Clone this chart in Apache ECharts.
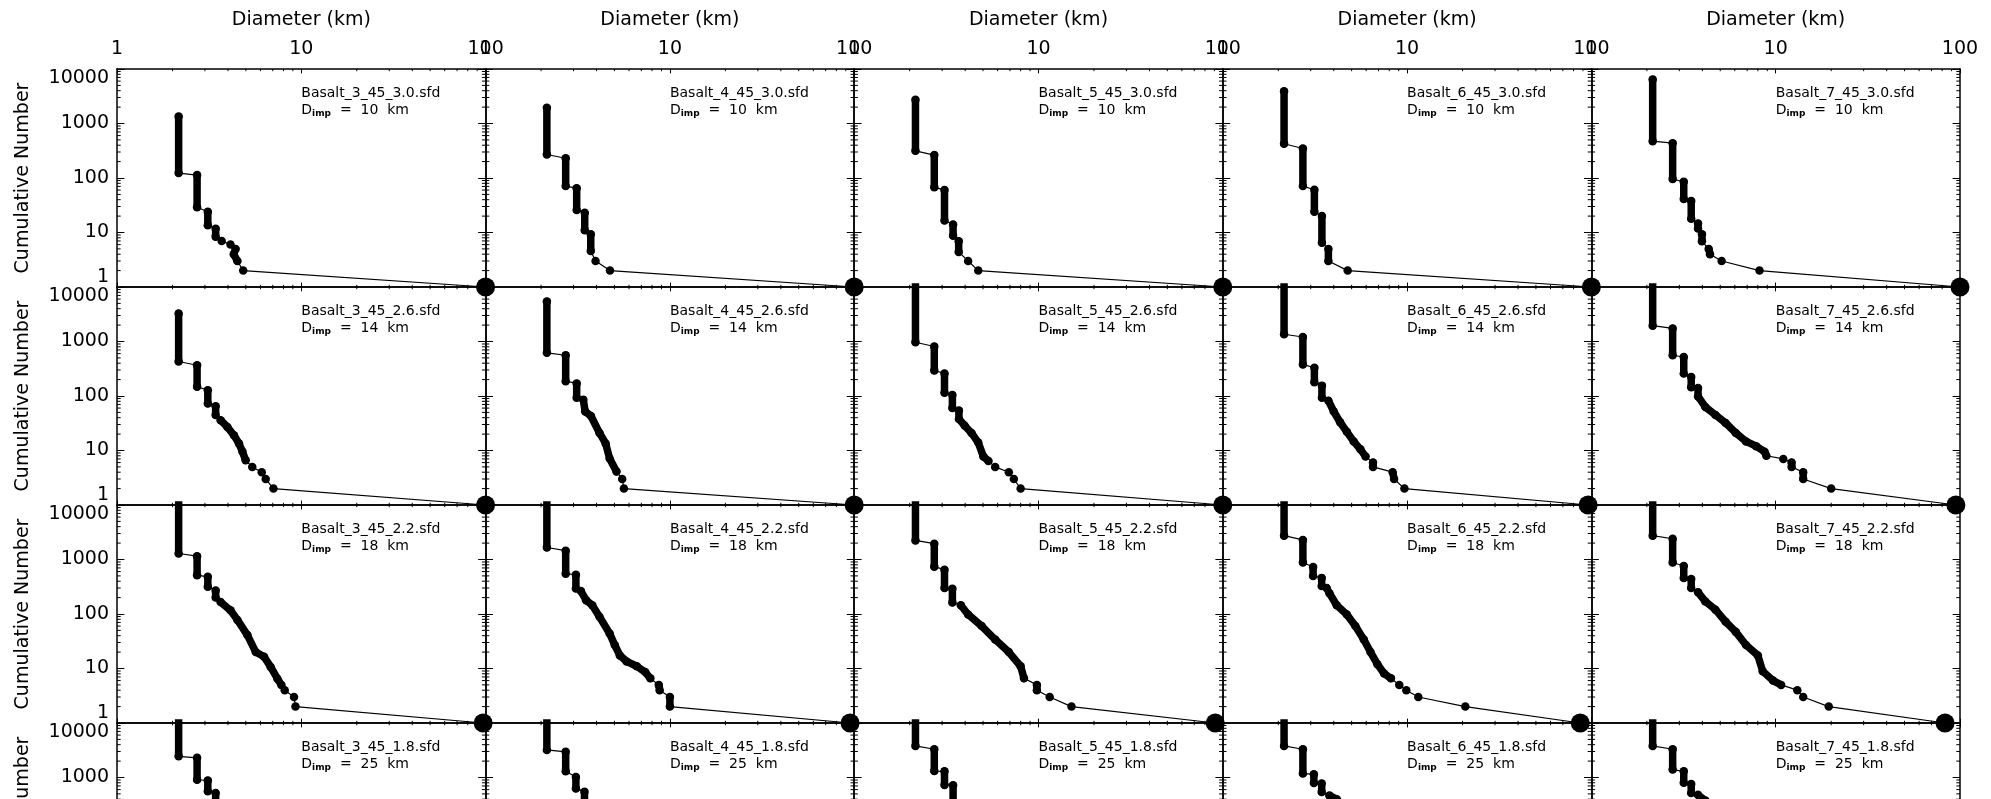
<!DOCTYPE html>
<html><head><meta charset="utf-8">
<script src="https://cdn.jsdelivr.net/npm/echarts@6/dist/echarts.min.js"></script>
<style>html,body{margin:0;padding:0;background:#fff;width:1991px;height:799px;overflow:hidden}#c{width:1991px;height:960px}</style>
</head><body><div id="c"></div><script>
// ---- tick values ----
const xMajorTicks = [1, 10, 100];
const yMajorTicks = [1, 10, 100, 1000, 10000];
const xMinorTicks = [2,3,4,5,6,7,8,9,20,30,40,50,60,70,80,90];
const yMinorTicks = [2,3,4,5,6,7,8,9,20,30,40,50,60,70,80,90,200,300,400,500,600,700,800,900,2000,3000,4000,5000,6000,7000,8000,9000];

// ---- panel labels ----
const models = ['3','4','5','6','7'];
const strengths = ['3.0','2.6','2.2','1.8'];
const impactorD = [10, 14, 18, 25];

// ---- data: each run = consecutive points [D km, cumulative N] ----
const basalt3_30 = [[[2.16,1350],[2.16,123]],[[2.72,113],[2.72,29]],[[3.11,24],[3.11,13.6]],[[3.43,11.7],[3.43,8.4]],[[3.7,7]],[[4.13,6]],[[4.4,5],[4.3,4],[4.5,3]],[[4.84,2]]];
const basalt3_26 = [[[2.16,3250],[2.16,430]],[[2.72,367],[2.72,148]],[[3.11,128],[3.11,73]],[[3.43,65],[3.43,45]],[[3.65,36],[3.97,27],[4.31,19],[4.59,13.4],[4.79,9.6],[4.99,6.6]],[[5.42,5]],[[6.1,4]],[[6.41,3]],[[7.06,2]]];
const basalt3_22 = [[[2.16,12000],[2.16,1290]],[[2.72,1150],[2.72,515]],[[3.11,480],[3.11,315]],[[3.43,270],[3.43,200]],[[3.65,166],[4.13,117],[4.5,78],[5.1,41],[5.66,20],[6.28,16.4],[6.82,10.7],[7.42,6.5],[7.8,5]],[[8.13,4]],[[9.13,3]],[[9.3,2]]];
const basalt3_18 = [[[2.16,12000],[2.16,2450]],[[2.72,2300],[2.72,910]],[[3.11,880],[3.11,560]],[[3.43,520],[3.43,330]],[[3.65,300],[4.13,200]]];

const basalt4_30 = [[[2.15,1950],[2.15,270]],[[2.72,230],[2.72,71]],[[3.12,65],[3.12,26]],[[3.45,23],[3.45,11]],[[3.72,9.3],[3.72,4.6]],[[3.95,3]],[[4.73,2]]];
const basalt4_26 = [[[2.15,5400],[2.15,620]],[[2.72,560],[2.72,187]],[[3.12,170],[3.12,93]],[[3.39,85],[3.47,52],[3.73,43],[4.15,21],[4.48,13.5],[4.71,7.1],[5.13,4.1]],[[5.51,3]],[[5.63,2]]];
const basalt4_22 = [[[2.15,12000],[2.15,1660]],[[2.72,1450],[2.72,550]],[[3.09,525],[3.09,295]],[[3.29,263],[3.51,179],[3.79,145],[4.15,89],[4.71,44],[5.02,27],[5.35,17.4],[5.82,13.5],[6.61,11],[7.35,8.6],[7.83,6.6]],[[8.7,5],[8.8,4]],[[10,3],[10,2]]];
const basalt4_18 = [[[2.15,12000],[2.15,3200]],[[2.72,2960],[2.72,1300]],[[3.09,1020],[3.09,630]],[[3.44,550],[3.44,300]]];

const basalt5_30 = [[[2.15,2740],[2.15,315]],[[2.72,263],[2.72,68]],[[3.09,60],[3.09,16.6]],[[3.44,14],[3.44,8.7]],[[3.69,6.9],[3.69,4.4]],[[4.15,3]],[[4.71,2]]];
const basalt5_26 = [[[2.15,12000],[2.15,970]],[[2.72,810],[2.72,294]],[[3.09,260],[3.09,115]],[[3.41,104],[3.41,60]],[[3.7,54],[3.7,38],[3.98,28.5],[4.33,21],[4.71,14],[5.02,7.8],[5.35,6.4]],[[5.82,5]],[[6.9,4]],[[7.35,3]],[[8.0,2]]];
const basalt5_22 = [[[2.15,12000],[2.15,2240]],[[2.72,1950],[2.72,740]],[[3.09,650],[3.09,300]],[[3.41,290],[3.41,162]],[[3.79,145],[4.15,98],[4.92,60],[5.82,34],[6.9,20],[8.0,11],[8.34,6.6]],[[9.8,5],[9.8,4]],[[11.5,3]],[[15.1,2]]];
const basalt5_18 = [[[2.15,12000],[2.15,3800]],[[2.72,3300],[2.72,1310]],[[3.09,1300],[3.09,730]],[[3.44,720],[3.44,300]]];

const basalt6_30 = [[[2.15,3900],[2.15,425]],[[2.72,348],[2.72,71]],[[3.14,61],[3.14,24]],[[3.45,20],[3.45,6.5]],[[3.74,5],[3.74,3]],[[4.76,2]]];
const basalt6_26 = [[[2.15,12000],[2.15,1360]],[[2.72,1210],[2.72,380]],[[3.14,330],[3.14,178]],[[3.45,155],[3.45,93]],[[3.74,82],[4.0,52],[4.33,33],[4.71,22],[5.13,14.7],[5.58,10.5],[5.95,7.8]],[[6.53,6],[6.53,5]],[[8.35,4],[8.5,3]],[[9.67,2]]];
const basalt6_22 = [[[2.15,12000],[2.15,2740]],[[2.72,2290],[2.72,880]],[[3.09,730],[3.09,500]],[[3.44,460],[3.44,325]],[[3.66,300],[3.79,240],[4.15,145],[4.71,98],[5.24,60],[5.82,34],[6.33,20],[6.9,12],[7.5,8.1],[8.17,6.6]],[[9.07,5]],[[9.9,4]],[[11.5,3]],[[20.7,2]]];
const basalt6_18 = [[[2.15,12000],[2.15,3800]],[[2.72,3300],[2.72,1180]],[[3.12,1150],[3.12,790]],[[3.44,780],[3.44,540]],[[3.79,465],[4.15,400],[4.45,310]]];

const basalt7_30 = [[[2.15,6450],[2.15,473]],[[2.76,435],[2.76,96]],[[3.17,85],[3.17,41]],[[3.48,38],[3.48,17.8]],[[3.79,14.7],[3.79,11.8]],[[3.98,9.3],[3.98,6.9]],[[4.33,5],[4.4,4]],[[5.09,3]],[[8.17,2]]];
const basalt7_26 = [[[2.15,12000],[2.15,1950]],[[2.76,1740],[2.76,560]],[[3.17,520],[3.17,258]],[[3.48,224],[3.48,145]],[[3.79,140],[3.79,98],[4.15,63],[4.71,45],[5.35,32],[6.07,21],[6.9,14.7],[7.83,12],[8.7,9.5],[8.9,8]],[[11,7]],[[12.2,6],[12.2,5]],[[14.1,4],[14.1,3]],[[20,2]]];
const basalt7_22 = [[[2.15,12000],[2.15,2740]],[[2.76,2400],[2.76,880]],[[3.17,760],[3.17,457]],[[3.48,440],[3.48,300]],[[3.79,250],[4.15,170],[4.71,120],[5.35,72],[6.07,47],[6.9,27],[8.0,17.4],[8.5,8.9],[9.67,6],[10.7,5]],[[13.1,4]],[[14.1,3]],[[19.4,2]]];
const basalt7_18 = [[[2.15,12000],[2.15,3800]],[[2.76,3300],[2.76,1400]],[[3.17,1300],[3.17,800]],[[3.48,760],[3.48,520]],[[3.79,480],[4.15,380],[4.45,300]]];

// diameter of the single largest fragment (N = 1) per row, per column
const largestRow30 = [100, 100, 100, 100, 100];
const largestRow26 = [100, 100, 100, 96, 95];
const largestRow22 = [97, 95, 91, 87, 83];
const largestRow18 = [null, null, null, null, null];

const panelData = [
  [basalt3_30, basalt4_30, basalt5_30, basalt6_30, basalt7_30],
  [basalt3_26, basalt4_26, basalt5_26, basalt6_26, basalt7_26],
  [basalt3_22, basalt4_22, basalt5_22, basalt6_22, basalt7_22],
  [basalt3_18, basalt4_18, basalt5_18, basalt6_18, basalt7_18]
];
const largest = [largestRow30, largestRow26, largestRow22, largestRow18];

// ---- layout ----
const FONT = 'DejaVu Sans';
const left0 = 117, colW = 368.6, top0 = 69, rowH = 218;
const xTickLen = 4.4, yTickLen = 7.4;

const grids = [], xAxes = [], yAxes = [], series = [], graphics = [];
const lab = v => String(Math.round(v));

function tickLine(x1, y1, x2, y2) {
  return { type: 'line', shape: { x1, y1, x2, y2 }, style: { stroke: '#000', lineWidth: 1 } };
}
function minorTickRender(params, api) {
  const children = [];
  xMinorTicks.forEach(v => {
    const b = api.coord([v, yMajorTicks[0]]);
    const t = api.coord([v, yMajorTicks[yMajorTicks.length - 1]]);
    children.push(tickLine(b[0], b[1], b[0], b[1] - xTickLen / 2));
    children.push(tickLine(t[0], t[1], t[0], t[1] + xTickLen / 2));
  });
  yMinorTicks.forEach(v => {
    const l = api.coord([xMajorTicks[0], v]);
    const r = api.coord([xMajorTicks[xMajorTicks.length - 1], v]);
    children.push(tickLine(l[0], l[1], l[0] + yTickLen / 2, l[1]));
    children.push(tickLine(r[0], r[1], r[0] - yTickLen / 2, r[1]));
  });
  return { type: 'group', children };
}

const axisLineStyle = { show: true, onZero: false, lineStyle: { color: '#000', width: 1.5 } };
const labelStyle = { color: '#000', fontSize: 19, fontFamily: FONT };

for (let r = 0; r < 4; r++) {
  for (let c = 0; c < 5; c++) {
    const gi = r * 5 + c;
    const L = left0 + c * colW, T = top0 + r * rowH;
    grids.push({ left: L, top: T, width: colW, height: rowH, containLabel: false });
    const xBase = { type: 'log', logBase: 10, min: 1, max: 100, gridIndex: gi, splitLine: { show: false },
      axisLine: axisLineStyle, axisTick: { show: true, inside: true, length: xTickLen, lineStyle: { color: '#000', width: 1 } } };
    xAxes.push(Object.assign({}, xBase, { position: 'bottom', axisLabel: { show: false } }));
    xAxes.push(Object.assign({}, xBase, { position: 'top',
      axisLabel: Object.assign({ show: r === 0, margin: 10, formatter: lab, showMinLabel: true, showMaxLabel: true }, labelStyle),
      name: r === 0 ? 'Diameter (km)' : '', nameLocation: 'middle', nameGap: 39,
      nameTextStyle: labelStyle }));
    const yBase = { type: 'log', logBase: 10, min: 1, max: 10000, gridIndex: gi, splitLine: { show: false },
      axisLine: axisLineStyle, axisTick: { show: true, inside: true, length: yTickLen, lineStyle: { color: '#000', width: 1 } } };
    yAxes.push(Object.assign({}, yBase, { position: 'left',
      axisLabel: Object.assign({ show: c === 0, margin: 8, formatter: lab, showMinLabel: true, showMaxLabel: true,
        verticalAlignMinLabel: 'bottom', verticalAlignMaxLabel: 'top' }, labelStyle),
      name: c === 0 ? 'Cumulative Number' : '', nameLocation: 'middle', nameGap: 84, nameRotate: 90,
      nameTextStyle: labelStyle }));
    yAxes.push(Object.assign({}, yBase, { position: 'right', axisLabel: { show: false } }));

    const runs = panelData[r][c];
    const big = largest[r][c];
    const thin = [], thick = [], dots = [];
    runs.forEach(run => {
      run.forEach(p => { thin.push(p); dots.push(p); });
      if (run.length > 1) { run.forEach(p => thick.push(p)); thick.push(['-', '-']); }
    });
    if (big) thin.push([big, 1]);
    const ax = { xAxisIndex: 2 * gi, yAxisIndex: 2 * gi, silent: true, animation: false };
    series.push(Object.assign({ type: 'line', data: thin, symbol: 'none', clip: true,
      lineStyle: { color: '#000', width: 1.2, opacity: 1 } }, ax));
    series.push(Object.assign({ type: 'line', data: thick, symbol: 'none', clip: true, connectNulls: false,
      lineStyle: { color: '#000', width: 7.5, cap: 'round', join: 'round', opacity: 1 } }, ax));
    series.push(Object.assign({ type: 'scatter', data: dots, symbol: 'circle', symbolSize: 8.5, clip: true,
      itemStyle: { color: '#000', opacity: 1 } }, ax));
    if (big) series.push(Object.assign({ type: 'scatter', data: [[big, 1]], symbol: 'circle', symbolSize: 19, clip: false,
      itemStyle: { color: '#000', opacity: 1 }, z: 5 }, ax));
    series.push(Object.assign({ type: 'custom', data: [[1, 1]], renderItem: minorTickRender, clip: false }, ax));

    graphics.push({ type: 'text', left: L + colW / 2, top: T + 17, silent: true,
      style: { text: '{a|Basalt_' + models[c] + '_45_' + strengths[r] + '.sfd}\n{a|D}{b|imp}{a|  =  ' + impactorD[r] + '  km}',
        fill: '#000',
        rich: { a: { fontSize: 14, fontFamily: FONT, lineHeight: 17, fill: '#000', color: '#000' },
                b: { fontSize: 9, fontFamily: FONT, lineHeight: 17, verticalAlign: 'bottom', fill: '#000', color: '#000', fontWeight: 'bold' } } } });
  }
}

const chart = echarts.init(document.getElementById('c'), null, { renderer: 'canvas', width: 1991, height: 960 });
chart.setOption({
  backgroundColor: '#fff',
  animation: false,
  grid: grids, xAxis: xAxes, yAxis: yAxes, series: series, graphic: graphics
});
</script></body></html>
